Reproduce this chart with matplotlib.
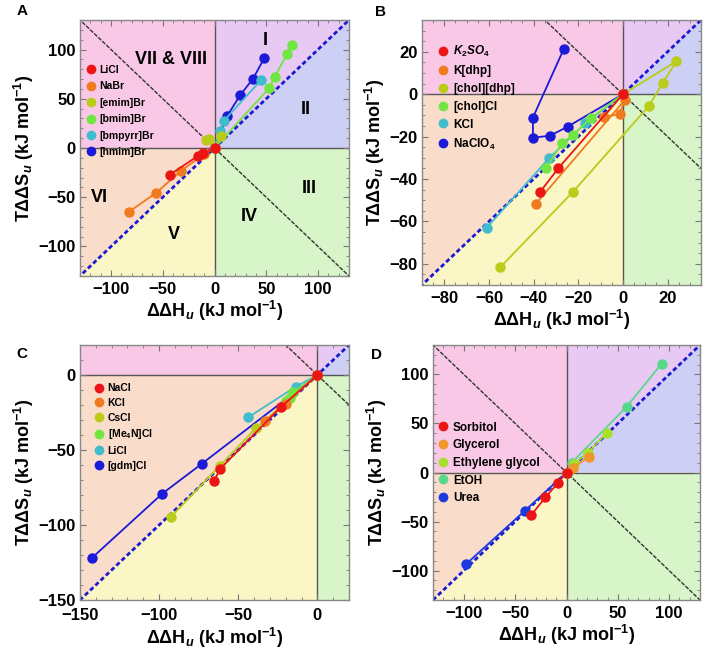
import matplotlib
matplotlib.use("Agg")
import matplotlib.pyplot as plt
from matplotlib.lines import Line2D
from matplotlib.ticker import MultipleLocator

plt.rcParams['font.family'] = ['Liberation Sans', 'DejaVu Sans']
plt.rcParams['font.weight'] = 'bold'
plt.rcParams['mathtext.fontset'] = 'custom'
plt.rcParams['mathtext.rm'] = 'Liberation Sans:weight=bold'
plt.rcParams['mathtext.it'] = 'Liberation Sans:style=italic:weight=bold'
plt.rcParams['mathtext.bf'] = 'Liberation Sans:weight=bold'
plt.rcParams['axes.unicode_minus'] = True

# ---------------- data ----------------
# Panel A
A_names = ['LiCl', 'NaBr', '[emim]Br', '[bmim]Br', '[bmpyrr]Br', '[hmim]Br']
A_x = [[0, -11, -16, -43],
       [0, -10, -32, -57, -83],
       [-8, -5, 0, 6],
       [0, 53, 58, 70, 75],
       [0, 5, 9, 45],
       [0, 12.5, 25, 37, 48]]
A_y = [[0, -5, -8, -27],
       [0, -6, -23, -46, -65],
       [8, 9, 0, 12],
       [0, 61, 72, 95, 105],
       [0, 17.5, 27.5, 69],
       [0, 33, 54, 70, 91]]

# Panel B
B_names = [r'$K_2SO_4$', 'K[dhp]', '[chol][dhp]', '[chol]Cl', 'KCl', r'NaClO$_4$']
B_x = [[0, -29, -37],
       [0, -8.5, -1.5, 0.9, -39],
       [0, 24, 18, 11.7, -22.3, -55],
       [0, -14.5, -22.3, -27.2, -34.4],
       [0, -16.8, -33.2, -61],
       [0, -24.7, -32.7, -40.3, -40.3, -26.5]]
B_y = [[0, -35, -46],
       [0, -10.6, -9.5, -2.7, -51.7],
       [0, 15.5, 5.5, -5.5, -46, -81.7],
       [0, -11.4, -19.3, -22.9, -34.8],
       [0, -13.7, -30.3, -63],
       [0, -15.3, -19.6, -20.5, -11, 21.3]]

# Panel C
C_names = ['NaCl', 'KCl', 'CsCl', r'[Me$_4$N]Cl', 'LiCl', '[gdm]Cl']
C_x = [[0, -22.7, -61.3, -65.3],
       [0, -20, -32.8],
       [0, -39, -61.7, -92.6],
       [0, -15.4, -17.5, -19.6],
       [0, -13.7, -43.8],
       [0, -72.8, -97.9, -142.3]]
C_y = [[0, -21, -62.4, -70.6],
       [0, -19, -30.5],
       [0, -35.6, -60.6, -94.7],
       [0, -11.6, -15, -17.1],
       [0, -7.8, -28.3],
       [0, -59, -79, -121.8]]

# Panel D
D_names = ['Sorbitol', 'Glycerol', 'Ethylene glycol', 'EtOH', 'Urea']
D_x = [[0, -8.1, -20.5, -34.1],
       [0, 5.9, 21.8],
       [0, 7.5, 20.5, 39],
       [0, 4.9, 58.5, 92.6],
       [0, -40.6, -98]]
D_y = [[0, -10.4, -25.3, -43.1],
       [0, 4.7, 15.8],
       [0, 9.1, 19.9, 40],
       [0, 9.8, 67, 110.8],
       [0, -39, -93.6]]

six_colors = ['#ec1515', '#f07a1e', '#b8cc18', '#70e640', '#40bccc', '#1a1ad8']
D_colors = ['#ec1515', '#f0962a', '#a6e02a', '#58d88a', '#1a3ae0']

A_regions = ['I', 'VII & VIII', 'II', 'III', 'IV', 'V', 'VI']
A_region_x = [49, -42, 88, 92, 34, -39, -111]
A_region_y = [109, 90, 39, -41, -70, -88, -50]

# ---------------- style ----------------
BG = dict(ul='#f9c8e6', ur_up='#e8c9f4', ur_dn='#cdcff4', lr='#d7f5c8',
          ll_up='#fadcca', ll_dn='#fbf6c6')

W, H = 708, 654
fig = plt.figure(figsize=(W / 100, H / 100), dpi=100)


def make_ax(px):
    l, r, t, b = px
    return fig.add_axes([l / W, 1 - b / H, (r - l) / W, (b - t) / H])


def setup(ax, lo, hi, step, minor, xpad=4):
    M = 1000
    ax.fill([-M, 0, 0, -M], [0, 0, M, M], color=BG['ul'], lw=0, zorder=0)
    ax.fill([0, 0, M], [0, M, M], color=BG['ur_up'], lw=0, zorder=0)
    ax.fill([0, M, M], [0, M, 0], color=BG['ur_dn'], lw=0, zorder=0)
    ax.fill([0, M, M, 0], [0, 0, -M, -M], color=BG['lr'], lw=0, zorder=0)
    ax.fill([0, -M, -M], [0, -M, 0], color=BG['ll_up'], lw=0, zorder=0)
    ax.fill([0, 0, -M], [0, -M, -M], color=BG['ll_dn'], lw=0, zorder=0)
    ax.axhline(0, color='#555555', lw=1.0, zorder=1)
    ax.axvline(0, color='#555555', lw=1.0, zorder=1)
    ax.plot([-M, M], [M, -M], color='#333333', lw=1.0, ls=(0, (3, 1)), zorder=1)
    ax.plot([-M, M], [-M, M], color='#1a1ad0', lw=2.0, ls=(0, (1.6, 1.0)), zorder=2)
    ax.set_xlim(lo, hi)
    ax.set_ylim(lo, hi)
    ax.xaxis.set_major_locator(MultipleLocator(step))
    ax.yaxis.set_major_locator(MultipleLocator(step))
    ax.xaxis.set_minor_locator(MultipleLocator(minor))
    ax.yaxis.set_minor_locator(MultipleLocator(minor))
    ax.tick_params(which='both', direction='in', top=True, right=True,
                   color='#777777', labelsize=12, pad=3)
    ax.tick_params(axis='x', which='both', pad=xpad)
    ax.tick_params(which='major', length=4, width=0.8)
    ax.tick_params(which='minor', length=2, width=0.6)
    for lab in ax.get_xticklabels() + ax.get_yticklabels():
        lab.set_fontweight('bold')
    for s in ax.spines.values():
        s.set_color('#888888')
        s.set_linewidth(1.0)
    ax.set_xlabel(r'ΔΔH$_{u}$ (kJ mol$^{-1}$)', fontsize=13, fontweight='bold', labelpad=2)
    ax.set_ylabel(r'TΔΔS$_{u}$ (kJ mol$^{-1}$)', fontsize=13, fontweight='bold', labelpad=2)


def draw(ax, xs, ys, names, colors, legfs, anchor, spacing):
    n = len(names)
    for i in reversed(range(n)):
        ax.plot(xs[i], ys[i], color=colors[i], lw=1.3, marker='o', ms=6.5,
                mec=colors[i], mfc=colors[i], zorder=3 + (n - i) * 0.1, clip_on=True)
    handles = [Line2D([], [], ls='none', marker='o', ms=6, color=c) for c in colors]
    ax.legend(handles, names, loc='upper left', bbox_to_anchor=anchor, frameon=False,
              prop=dict(family='Liberation Sans', weight='bold', size=legfs),
              handlelength=1.0, handletextpad=0.35, labelspacing=spacing,
              borderpad=0, borderaxespad=0)


axA = make_ax((80, 349, 20, 276))
setup(axA, -130, 130, 50, 10)
draw(axA, A_x, A_y, A_names, six_colors, 7.5, (0.02, 0.825), 0.62)
for t, x, y in zip(A_regions, A_region_x, A_region_y):
    axA.text(x, y, t, fontsize=13, fontweight='bold', ha='center', va='center', zorder=2)

axB = make_ax((422, 701, 20, 285))
setup(axB, -90, 35, 20, 5)
draw(axB, B_x, B_y, B_names, six_colors, 8.5, (0.055, 0.91), 0.5)

axC = make_ax((80, 349, 345, 600))
setup(axC, -150, 20, 50, 10, xpad=6)
draw(axC, C_x, C_y, C_names, six_colors, 7.5, (0.05, 0.85), 0.45)

axD = make_ax((433, 700, 345, 600))
setup(axD, -130, 130, 50, 10)
draw(axD, D_x, D_y, D_names, D_colors, 8.5, (0.015, 0.70), 0.48)

for lab, x, y in [('A', 22, 11), ('B', 380, 12), ('C', 22, 354), ('D', 376, 355)]:
    fig.text(x / W, 1 - y / H, lab, fontsize=11, fontweight='bold', ha='center', va='center')

fig.savefig('out.png', dpi=100)
